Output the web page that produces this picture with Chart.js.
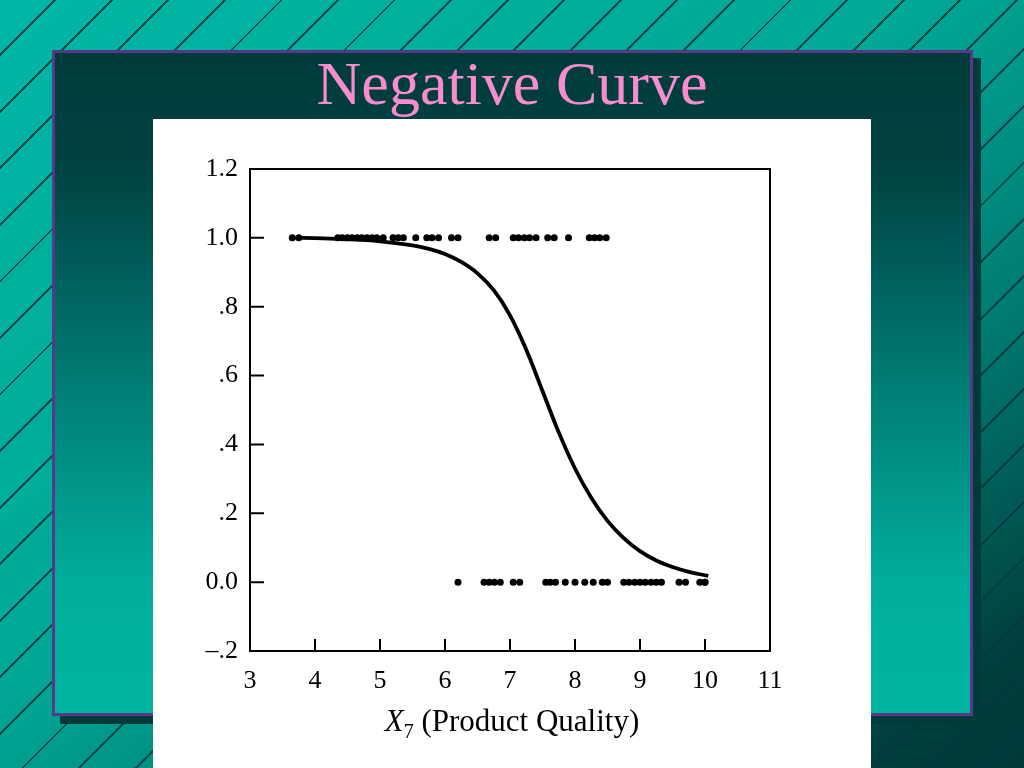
<!DOCTYPE html>
<html>
<head>
<meta charset="utf-8">
<script src="https://cdn.jsdelivr.net/npm/chart.js@4.4.1/dist/chart.umd.min.js"></script>
<style>
    html, body {
        margin: 0;
        padding: 0;
        width: 1024px;
        height: 768px;
        overflow: hidden;
    }
    .slide {
        position: relative;
        width: 1024px;
        height: 768px;
        background:
            repeating-linear-gradient(135deg, transparent 0px, transparent 38px, rgba(5, 55, 60, 0.85) 38px, rgba(5, 55, 60, 0.85) 40px),
            linear-gradient(to bottom right, #00b6a4 0%, #00a898 45%, #007a70 70%, #003e3e 92%, #003838 100%);
    }
    .shadow {
        position: absolute;
        left: 60px;
        top: 58px;
        width: 921px;
        height: 666px;
        background: #003a3a;
    }
    .panel {
        position: absolute;
        left: 52px;
        top: 50px;
        width: 915px;
        height: 660px;
        border: 3px solid #563a88;
        background: linear-gradient(to bottom, #003b3b 0%, #004343 18%, #007c74 50%, #00ad9c 80%, #00b4a2 100%);
    }
    .title {
        position: absolute;
        left: 0;
        top: 48px;
        width: 1024px;
        text-align: center;
        font-family: "Liberation Serif", serif;
        font-size: 62px;
        color: #f98bcf;
    }
    .paper {
        position: absolute;
        left: 153px;
        top: 119px;
        width: 718px;
        height: 649px;
        background: #ffffff;
    }
    .chart-box {
        position: absolute;
        left: 0;
        top: 0;
        width: 718px;
        height: 649px;
    }
    .axis-title {
        position: absolute;
        left: 0;
        top: 584px;
        width: 718px;
        text-align: center;
        font-family: "Liberation Serif", serif;
        font-size: 31px;
        color: #000;
    }
    .axis-title sub {
        font-size: 20px;
        vertical-align: -7px;
    }
</style>
</head>
<body>
<div class="slide">
    <div class="shadow"></div>
    <div class="panel"></div>
    <div class="title">Negative Curve</div>
    <div class="paper">
        <div class="chart-box"><canvas id="curveChart"></canvas></div>
        <div class="axis-title"><i>X</i><sub>7</sub> (Product Quality)</div>
    </div>
</div>
<script>
// fitted probability curve
const curveX = [3.7, 4.0, 4.5, 5.0, 5.5, 5.75, 6.0, 6.25, 6.5, 6.75, 7.0, 7.25, 7.5, 7.75, 8.0, 8.25, 8.5, 8.75, 9.0, 9.25, 9.5, 9.75, 10.05];
const curveY = [1.0, 0.999, 0.996, 0.99, 0.978, 0.968, 0.953, 0.93, 0.897, 0.848, 0.775, 0.675, 0.555, 0.435, 0.33, 0.245, 0.178, 0.128, 0.09, 0.063, 0.044, 0.03, 0.018];

// observations with outcome 1 and outcome 0
const topX = [3.65, 3.75, 4.35, 4.42, 4.5, 4.57, 4.65, 4.72, 4.8, 4.88, 4.95, 5.05, 5.2, 5.28, 5.36, 5.55, 5.72, 5.8, 5.9, 6.1, 6.2, 6.68, 6.78, 7.05, 7.13, 7.22, 7.3, 7.4, 7.58, 7.68, 7.9, 8.22, 8.3, 8.38, 8.48];
const bottomX = [6.2, 6.6, 6.68, 6.76, 6.85, 7.05, 7.15, 7.55, 7.62, 7.7, 7.85, 8.0, 8.15, 8.28, 8.42, 8.5, 8.75, 8.83, 8.92, 9.0, 9.08, 9.17, 9.25, 9.33, 9.6, 9.7, 9.92, 10.0, 10.0];

const xTickLabels = ['3', '4', '5', '6', '7', '8', '9', '10', '11'];
const yTickLabels = ['\u2013.2', '0.0', '.2', '.4', '.6', '.8', '1.0', '1.2'];

// box round the plot and inward tick marks
const frameTicks = {
    id: 'frameTicks',
    afterDraw(chart) {
        const ctx = chart.ctx;
        const area = chart.chartArea;
        const xs = chart.scales.x;
        const ys = chart.scales.y;
        ctx.save();
        ctx.strokeStyle = '#000';
        ctx.lineWidth = 2;
        ctx.strokeRect(area.left, area.top, area.right - area.left, area.bottom - area.top);
        ctx.beginPath();
        xs.ticks.forEach(t => {
            const px = xs.getPixelForValue(t.value);
            ctx.moveTo(px, area.bottom);
            ctx.lineTo(px, area.bottom - 12);
        });
        ys.ticks.forEach(t => {
            const py = ys.getPixelForValue(t.value);
            ctx.moveTo(area.left, py);
            ctx.lineTo(area.left + 14, py);
        });
        ctx.stroke();
        ctx.restore();
    }
};

const tickFont = { family: '"Liberation Serif", serif', size: 26 };

new Chart(document.getElementById('curveChart'), {
    type: 'scatter',
    data: {
        datasets: [{
            label: 'curve',
            data: curveX.map((x, i) => ({ x: x, y: curveY[i] })),
            showLine: true,
            borderColor: '#000',
            borderWidth: 3.8,
            pointRadius: 0,
            tension: 0.4
        }, {
            label: 'y = 1',
            data: topX.map(x => ({ x: x, y: 1 })),
            backgroundColor: '#000',
            borderWidth: 0,
            pointRadius: 3.5
        }, {
            label: 'y = 0',
            data: bottomX.map(x => ({ x: x, y: 0 })),
            backgroundColor: '#000',
            borderWidth: 0,
            pointRadius: 3.5
        }]
    },
    options: {
        responsive: true,
        maintainAspectRatio: false,
        animation: false,
        devicePixelRatio: 1,
        layout: {
            padding: { top: 50, right: 101, bottom: 0, left: 0 }
        },
        plugins: {
            legend: { display: false },
            tooltip: { enabled: false }
        },
        scales: {
            x: {
                type: 'linear',
                min: 3,
                max: 11,
                afterFit: (scale) => { scale.height = 117; },
                grid: { display: false, drawTicks: false },
                border: { display: false },
                ticks: {
                    stepSize: 1,
                    color: '#000',
                    font: tickFont,
                    padding: 15,
                    maxRotation: 0,
                    callback: (value, index) => xTickLabels[index]
                }
            },
            y: {
                type: 'linear',
                min: -0.2,
                max: 1.2,
                afterFit: (scale) => { scale.width = 97; },
                grid: { display: false, drawTicks: false },
                border: { display: false },
                ticks: {
                    stepSize: 0.2,
                    color: '#000',
                    font: tickFont,
                    padding: 12,
                    callback: (value, index) => yTickLabels[index]
                }
            }
        }
    },
    plugins: [frameTicks]
});
</script>
</body>
</html>
